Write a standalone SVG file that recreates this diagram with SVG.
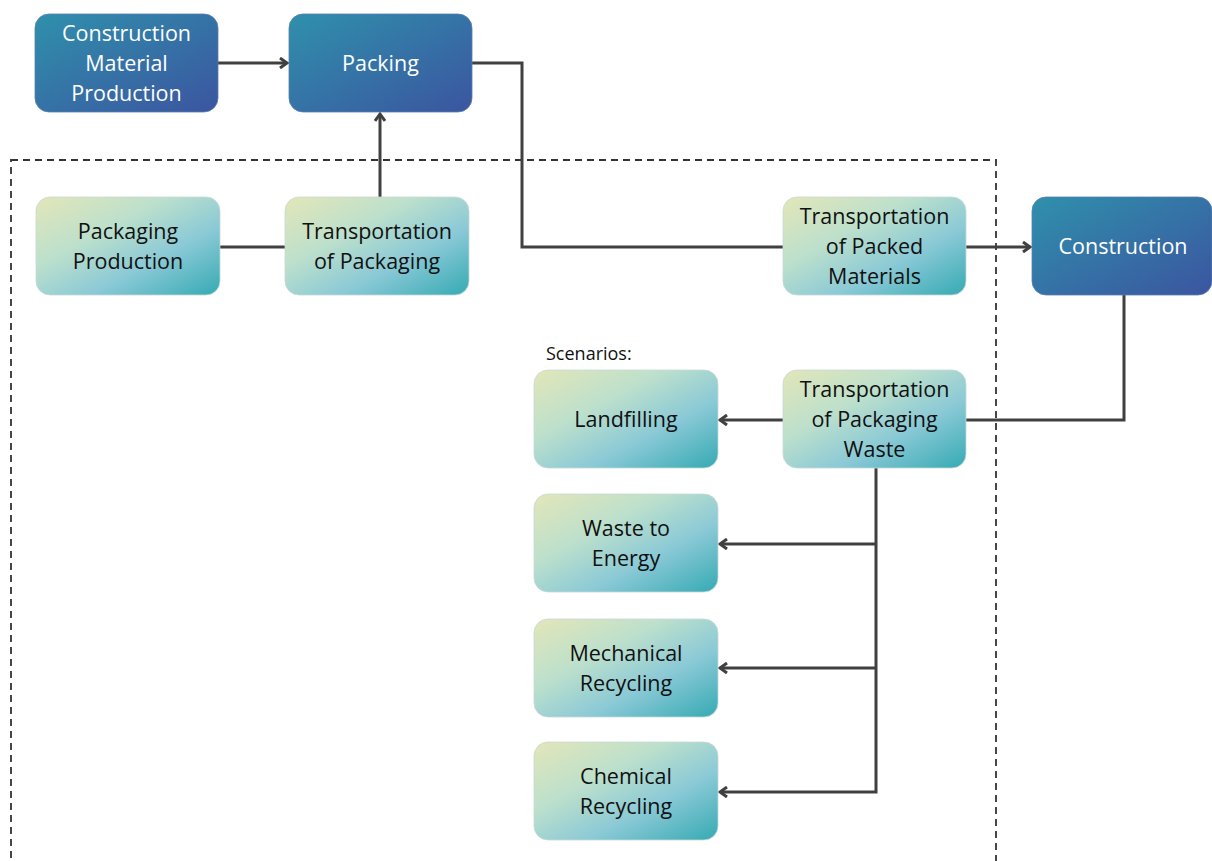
<svg xmlns="http://www.w3.org/2000/svg" width="1212" height="861" viewBox="0 0 1212 861">
<style>
.dark{fill:url(#gd);stroke:#5a7fb0;stroke-width:0.8}
.light{fill:url(#gl);stroke:#c8d8d8;stroke-width:0.8}
.tw{font-family:"Open Sans","Liberation Sans",sans-serif;font-size:21.5px;fill:#ffffff;text-anchor:middle}
.tb{font-family:"Open Sans","Liberation Sans",sans-serif;font-size:21.5px;fill:#111111;text-anchor:middle}
.conn{fill:none;stroke:#404040;stroke-width:3}
</style>
<defs>
<linearGradient id="gd" x1="0" y1="0" x2="1" y2="1">
<stop offset="0" stop-color="#2f90ac"/>
<stop offset="1" stop-color="#3b55a0"/>
</linearGradient>
<linearGradient id="gl" x1="0" y1="0" x2="1" y2="1">
<stop offset="0" stop-color="#e3e6b8"/>
<stop offset="0.35" stop-color="#bde0cc"/>
<stop offset="0.65" stop-color="#8ac9d6"/>
<stop offset="1" stop-color="#35aab3"/>
</linearGradient>
<marker id="arr" markerWidth="12" markerHeight="12" refX="9" refY="6" orient="auto" markerUnits="userSpaceOnUse">
<path d="M2,1 L9,6 L2,11" fill="none" stroke="#404040" stroke-width="3"/>
</marker>
</defs>
<rect x="11" y="160" width="985" height="720" fill="none" stroke="#333" stroke-width="1.8" stroke-dasharray="7,5"/>
<g id="connectors">
<path class="conn" d="M218,63 H287" marker-end="url(#arr)"/>
<path class="conn" d="M380,197 V114" marker-end="url(#arr)"/>
<path class="conn" d="M220,247 H285"/>
<path class="conn" d="M472,63 H522 V247 H783"/>
<path class="conn" d="M966,247 H1030" marker-end="url(#arr)"/>
<path class="conn" d="M1124,295 V420 H966"/>
<path class="conn" d="M783,420 H720" marker-end="url(#arr)"/>
<path class="conn" d="M876,468 V792 H720" marker-end="url(#arr)"/>
<path class="conn" d="M876,544 H720" marker-end="url(#arr)"/>
<path class="conn" d="M876,668 H720" marker-end="url(#arr)"/>
</g>
<g id="cmp"><rect class="dark" x="35" y="14" width="183" height="98" rx="14"/>
<text class="tw" x="126.5" y="41">Construction</text><text class="tw" x="126.5" y="71">Material</text><text class="tw" x="126.5" y="101">Production</text></g>
<g id="packing"><rect class="dark" x="289" y="14" width="183" height="98" rx="14"/>
<text class="tw" x="380.5" y="71">Packing</text></g>
<g id="packaging-production"><rect class="light" x="36" y="197" width="184" height="98" rx="14"/>
<text class="tb" x="128" y="239">Packaging</text><text class="tb" x="128" y="269">Production</text></g>
<g id="transport-packaging"><rect class="light" x="285" y="197" width="184" height="98" rx="14"/>
<text class="tb" x="377" y="239">Transportation</text><text class="tb" x="377" y="269">of Packaging</text></g>
<g id="transport-packed"><rect class="light" x="783" y="197" width="183" height="98" rx="14"/>
<text class="tb" x="874.5" y="224">Transportation</text><text class="tb" x="874.5" y="254">of Packed</text><text class="tb" x="874.5" y="284">Materials</text></g>
<g id="construction"><rect class="dark" x="1032" y="197" width="180" height="98" rx="14"/>
<text class="tw" x="1123" y="254">Construction</text></g>
<text x="546" y="360" font-family="Open Sans, Liberation Sans, sans-serif" font-size="18" fill="#111">Scenarios:</text>
<g id="transport-waste"><rect class="light" x="783" y="370" width="183" height="98" rx="14"/>
<text class="tb" x="874.5" y="397">Transportation</text><text class="tb" x="874.5" y="427">of Packaging</text><text class="tb" x="874.5" y="457">Waste</text></g>
<g id="landfilling"><rect class="light" x="534" y="370" width="184" height="98" rx="14"/>
<text class="tb" x="626" y="427">Landfilling</text></g>
<g id="waste-energy"><rect class="light" x="534" y="494" width="184" height="98" rx="14"/>
<text class="tb" x="626" y="536">Waste to</text><text class="tb" x="626" y="566">Energy</text></g>
<g id="mechanical"><rect class="light" x="534" y="619" width="184" height="98" rx="14"/>
<text class="tb" x="626" y="661">Mechanical</text><text class="tb" x="626" y="691">Recycling</text></g>
<g id="chemical"><rect class="light" x="534" y="742" width="184" height="98" rx="14"/>
<text class="tb" x="626" y="784">Chemical</text><text class="tb" x="626" y="814">Recycling</text></g>
</svg>
